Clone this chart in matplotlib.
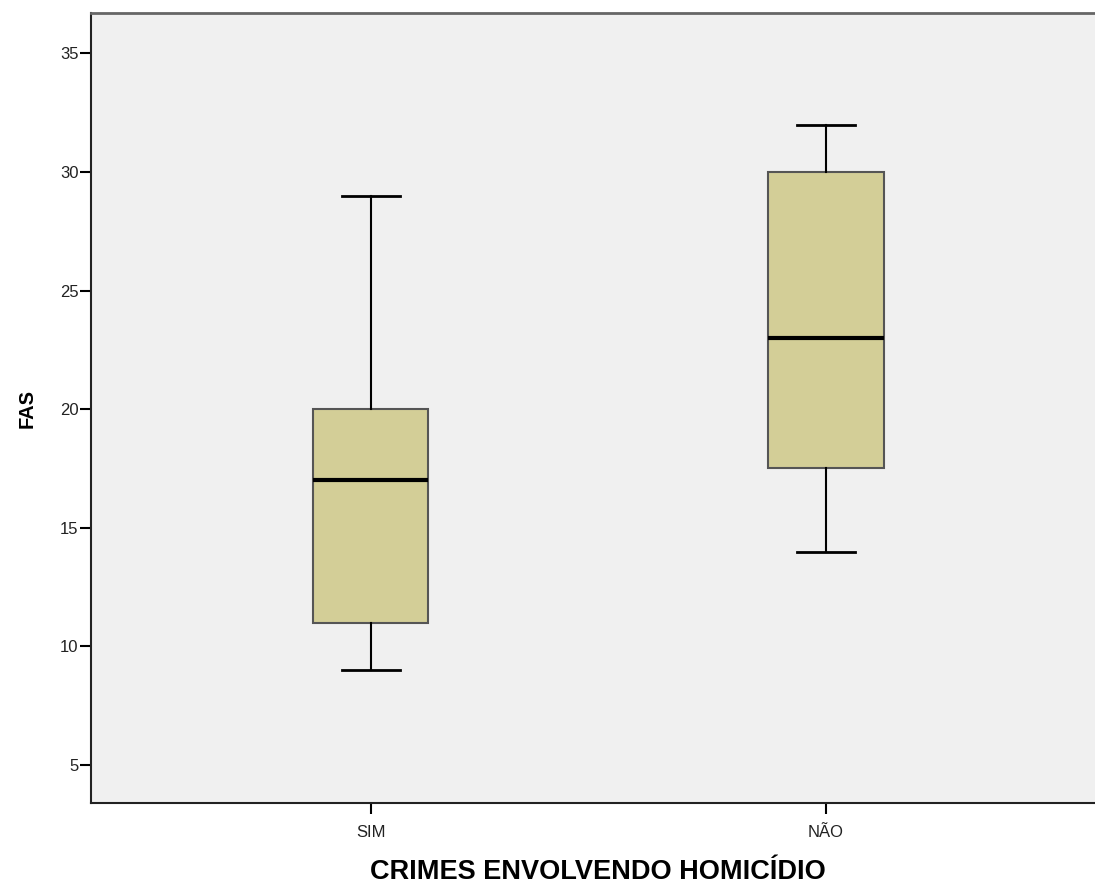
import matplotlib.pyplot as plt

# Dados (boxplot SPSS)
categorias = ['SIM', 'NÃO']
minimo = [9, 14]
q1 = [11, 17.5]
mediana = [17, 23]
q3 = [20, 30]
maximo = [29, 32]
yticks = [5, 10, 15, 20, 25, 30, 35]

plt.rcParams['font.family'] = ['Liberation Sans', 'DejaVu Sans']

fig = plt.figure(figsize=(10.95, 8.84), dpi=100)
ax = fig.add_axes([91/1095, 1 - 803/884, 1 - 91/1095, (803 - 13)/884])
ax.set_facecolor('#f0f0f0')

stats = []
for i, c in enumerate(categorias):
    stats.append(dict(label=c, whislo=minimo[i], q1=q1[i], med=mediana[i],
                      q3=q3[i], whishi=maximo[i], fliers=[]))

ax.bxp(stats, positions=[0, 1], widths=0.253, patch_artist=True,
       showfliers=False,
       boxprops=dict(facecolor='#d3ce97', edgecolor='#555555', linewidth=1.5),
       medianprops=dict(color='black', linewidth=3),
       whiskerprops=dict(color='black', linewidth=1.5),
       capprops=dict(color='black', linewidth=2),
       capwidths=0.127)

ax.set_xlim(-0.615, 1.591)
ax.set_ylim(3.4, 36.7)
ax.set_yticks(yticks)
ax.set_xticks([0, 1])
ax.set_xticklabels(categorias)

ax.tick_params(axis='both', direction='out', length=8, width=1.5,
               labelsize=12, colors='black', labelcolor='#222222')
ax.tick_params(axis='x', pad=8)
ax.tick_params(axis='y', pad=1)

for s in ['left', 'bottom']:
    ax.spines[s].set_color('#222222')
    ax.spines[s].set_linewidth(1.5)
ax.spines['top'].set_color('#666666')
ax.spines['top'].set_linewidth(2)
ax.spines['right'].set_visible(False)

ax.set_xlabel('CRIMES ENVOLVENDO HOMICÍDIO', fontsize=19.5, fontweight='bold')
ax.xaxis.set_label_coords(0.505, -0.071)
ax.set_ylabel('FAS', fontsize=14.5, fontweight='bold', labelpad=17)

fig.savefig('out.png', dpi=100)
